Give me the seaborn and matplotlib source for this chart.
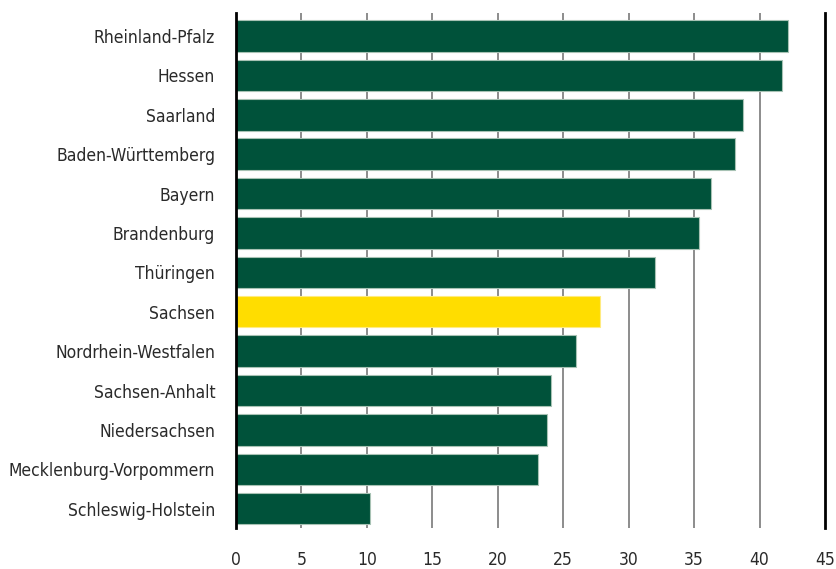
import matplotlib
matplotlib.use("Agg")
import matplotlib.pyplot as plt
import seaborn as sns
import pandas as pd

# Values per federal state
states = [
    "Rheinland-Pfalz", "Hessen", "Saarland", "Baden-Württemberg", "Bayern",
    "Brandenburg", "Thüringen", "Sachsen", "Nordrhein-Westfalen",
    "Sachsen-Anhalt", "Niedersachsen", "Mecklenburg-Vorpommern",
    "Schleswig-Holstein",
]
values = [42.2, 41.7, 38.7, 38.1, 36.3, 35.35, 32.0, 27.8, 26.0, 24.05, 23.75, 23.05, 10.2]
highlight = "Sachsen"
x_ticks = [0, 5, 10, 15, 20, 25, 30, 35, 40, 45]

GREEN = "#00523A"
YELLOW = "#FFDD00"

df = pd.DataFrame({"state": states, "value": values})
df["group"] = ["hl" if s == highlight else "base" for s in states]

sns.set_theme(style="white")
plt.rcParams["font.family"] = ["DejaVu Sans"]
plt.rcParams["font.stretch"] = "condensed"

fig = plt.figure(figsize=(8.36, 5.69), dpi=100)
ax = fig.add_axes([0.2823, 0.0721, 0.7045, 0.9045])

sns.barplot(
    data=df, x="value", y="state", hue="group",
    palette={"base": GREEN, "hl": YELLOW},
    order=states, orient="h", width=0.80, dodge=False,
    legend=False, ax=ax, zorder=3,
    edgecolor="#A7C2B4", linewidth=0.8, saturation=1,
)
# lighter outline on the highlighted bar
for patch in ax.patches:
    fc = patch.get_facecolor()
    if fc[0] > 0.9:
        patch.set_edgecolor("#FFEB80")

ax.set_xlim(0, 45)
ax.set_ylim(12.49, -0.576)
ax.set_xticks(x_ticks)
ax.set_xticklabels([str(t) for t in x_ticks])
ax.set_xlabel("")
ax.set_ylabel("")

for t in x_ticks[1:-1]:
    ax.axvline(t, color="#8C8C8C", lw=1.4, zorder=1)

for side in ("top", "bottom"):
    ax.spines[side].set_visible(False)
for side in ("left", "right"):
    ax.spines[side].set_visible(True)
    ax.spines[side].set_color("black")
    ax.spines[side].set_linewidth(2)
    ax.spines[side].set_zorder(4)

ax.tick_params(axis="x", length=0, pad=16.5, labelsize=12.5, labelcolor="#2A2A2A")
ax.tick_params(axis="y", length=0, pad=15, labelsize=12.5, labelcolor="#2A2A2A")

fig.savefig("out.png", dpi=100)
